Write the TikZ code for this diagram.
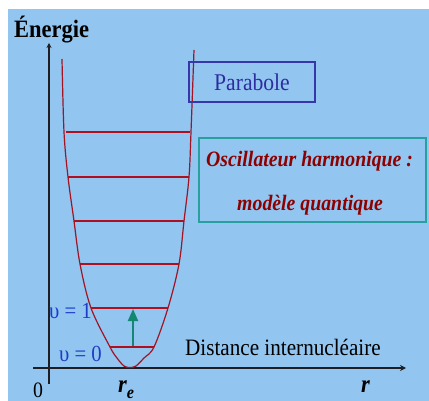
\documentclass[tikz,border=0pt]{standalone}
\usepackage{fontspec}
\setmainfont{Liberation Serif}[FakeStretch=0.9]
\usetikzlibrary{arrows.meta}
\definecolor{bgblue}{RGB}{146,197,240}
\definecolor{curvered}{RGB}{160,20,35}
\definecolor{levelred}{RGB}{175,15,30}
\definecolor{boxblue}{RGB}{55,55,170}
\definecolor{textblue}{RGB}{45,45,160}
\definecolor{boxteal}{RGB}{40,160,160}
\definecolor{oscred}{RGB}{140,0,0}
\definecolor{upsblue}{RGB}{30,60,200}
\definecolor{arrgreen}{RGB}{20,135,115}
\definecolor{axisblack}{RGB}{30,30,35}
\tikzset{
  txt/.style={inner sep=0pt, anchor=base west},
  axisline/.style={draw=axisblack, line width=1.4pt},
  levelline/.style={draw=levelred, line width=1.5pt},
  curveline/.style={draw=curvered, line width=1.2pt},
}
\begin{document}
\begin{tikzpicture}[x=1pt,y=-1pt]
\useasboundingbox (0,0) rectangle (429,401);
\fill[white] (0,0) rectangle (429,401);
\fill[bgblue] (8,9) rectangle (429,401);

% axes
\coordinate (xs) at (33,368);
\coordinate (xe) at (406,368);
\coordinate (ys) at (49,384);
\coordinate (ye) at (49,43);
\draw[axisline, -{Stealth[length=6pt,width=6pt]}] (xs) -- (xe);
\draw[axisline, -{Stealth[length=5pt,width=5pt]}] (ys) -- (ye);

% energy levels
\foreach \y/\a/\b [count=\i] in {132/66/190, 177/68/189, 221/74/184, 264/80/179, 308/91/168, 347/110/154}{
  \coordinate (L\i a) at (\a,\y);
  \coordinate (L\i b) at (\b,\y);
  \draw[levelline] (L\i a) -- (L\i b);
}

% parabola-like well
\draw[curveline] plot[smooth, tension=0.55] coordinates {
  (62,59) (64,132) (68,177) (74,221) (80,264) (91,308) (110,347) (117,358) (124,366) (130,367.5)
  (136,366) (144,358) (154,347) (168,308) (179,264) (184,221) (189,177) (191,132) (194,50)};

% transition arrow
\coordinate (t0) at (133,346);
\coordinate (t1) at (133,309);
\draw[draw=arrgreen, line width=2pt, -{Triangle[length=12pt,width=10pt]}] (t0) -- (t1);

% texts
\node[txt] (energie) at (14,38) {\fontsize{25}{28}\selectfont\bfseries Énergie};
\node[draw=boxblue, line width=1.2pt, minimum width=126pt, minimum height=40pt, inner sep=0pt,
      text=textblue, font=\fontsize{24}{28}\selectfont] (parab) at (252,82) {Parabole};
\node[draw=boxteal, line width=1.2pt, minimum width=227pt, minimum height=84pt, inner sep=0pt] (osc) at (312.5,180) {};
\node[txt, text=oscred] (osc1) at (206,167) {\fontsize{22}{26}\selectfont\bfseries\itshape Oscillateur harmonique :};
\node[txt, text=oscred] (osc2) at (237,211) {\fontsize{22}{26}\selectfont\bfseries\itshape modèle quantique};
\node[txt, text=upsblue] (v1) at (49,319) {\fontsize{23}{26}\selectfont υ = 1};
\node[txt, text=upsblue] (v0) at (59,361) {\fontsize{23}{26}\selectfont υ = 0};
\node[txt] (dist) at (185,355) {\fontsize{23.5}{27}\selectfont Distance internucléaire};
\node[txt] (zero) at (33,397) {\fontsize{22}{26}\selectfont 0};
\node[txt] (re) at (118,392) {\fontsize{25}{28}\selectfont\bfseries\itshape r\raisebox{-6pt}{\fontsize{18}{20}\selectfont e}};
\node[txt] (rr) at (361,392) {\fontsize{25}{28}\selectfont\bfseries\itshape r};
\end{tikzpicture}
\end{document}
